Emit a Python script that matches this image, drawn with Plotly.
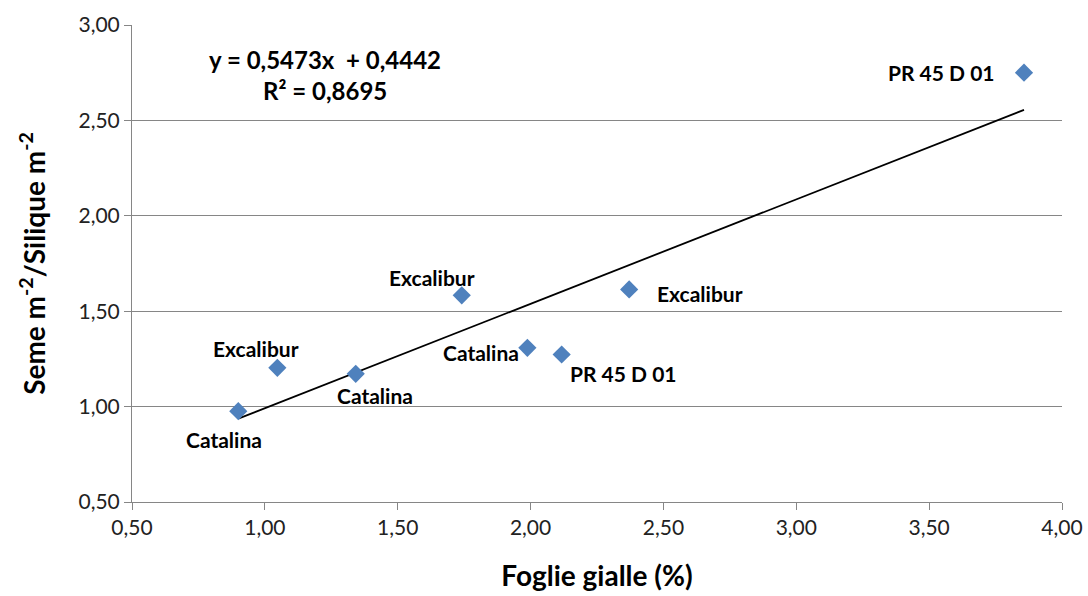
import plotly.graph_objects as go

# Data
foglie = [0.900, 1.047, 1.342, 1.741, 1.988, 2.117, 2.371, 3.857]
seme_silique = [0.976, 1.203, 1.172, 1.583, 1.308, 1.273, 1.614, 2.750]
varieta = ["Catalina", "Excalibur", "Catalina", "Excalibur", "Catalina",
           "PR 45 D 01", "Excalibur", "PR 45 D 01"]
slope = 0.5473
intercept = 0.4442
r2 = 0.8695
x_ticks = [0.5, 1.0, 1.5, 2.0, 2.5, 3.0, 3.5, 4.0]
y_ticks = [0.5, 1.0, 1.5, 2.0, 2.5, 3.0]

FONT = "Lato"

fig = go.Figure()

# trendline
xmin, xmax = min(foglie), max(foglie)
fig.add_trace(go.Scatter(
    x=[xmin, xmax], y=[slope * xmin + intercept, slope * xmax + intercept],
    mode="lines", line=dict(color="black", width=1.8), hoverinfo="skip",
    showlegend=False))

fig.add_trace(go.Scatter(
    x=foglie, y=seme_silique, mode="markers",
    marker=dict(symbol="diamond", size=14, color="#4F81BD", line=dict(width=0)),
    showlegend=False))

# label offsets (pixels) per point
shifts = [(-14, -28, "center"), (-21, 19, "center"), (19, -22, "center"),
          (-30, 18, "center"), (-6, -5, "right"), (6, -19, "left"),
          (26, -4, "left"), (-27, 0, "right")]
for xv, yv, name, (dx, dy, anch) in zip(foglie, seme_silique, varieta, shifts):
    fig.add_annotation(x=xv, y=yv, xref="x", yref="y", text=name, showarrow=False,
                       xanchor=anch, yanchor="middle", xshift=dx, yshift=dy,
                       font=dict(family=FONT, size=21, color="black", weight="bold"))

fig.add_annotation(x=0.208, y=0.927, xref="paper", yref="paper", showarrow=False,
                   text="y = " + f"{slope:.4f}".replace(".", ",") + "x  + " + f"{intercept:.4f}".replace(".", ","),
                   xanchor="center", yanchor="middle",
                   font=dict(family=FONT, size=24, color="black", weight="bold"))
fig.add_annotation(x=0.208, y=0.862, xref="paper", yref="paper", showarrow=False,
                   text="R² = " + f"{r2:.4f}".replace(".", ","),
                   xanchor="center", yanchor="middle",
                   font=dict(family=FONT, size=24, color="black", weight="bold"))

axis_common = dict(
    showline=True, linecolor="#868686", linewidth=1,
    ticks="outside", tickcolor="#868686", ticklen=7, tickwidth=1,
    tickformat=".2f", tickfont=dict(family=FONT, size=21, color="#222"),
    zeroline=False, automargin=False)

fig.update_layout(
    width=1088, height=596,
    margin=dict(l=132, r=26, t=25, b=94),
    paper_bgcolor="white", plot_bgcolor="white",
    separators=", ",
    xaxis=dict(range=[0.5, 4.0], tickvals=x_ticks, showgrid=False,
               title=dict(text="Foglie gialle (%)", standoff=28,
                          font=dict(family=FONT, size=28, color="black", weight="bold")),
               **axis_common),
    yaxis=dict(range=[0.5, 3.0], tickvals=y_ticks, showgrid=True,
               gridcolor="#868686", gridwidth=1,
               title=dict(text="Seme m<sup>-2</sup>/Silique m<sup>-2</sup>", standoff=24,
                          font=dict(family=FONT, size=28, color="black", weight="bold")),
               **axis_common),
)

fig.write_html("out.html")
